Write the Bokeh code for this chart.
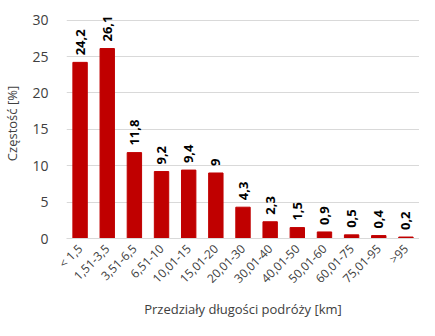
import math
from bokeh.plotting import figure
from bokeh.models import ColumnDataSource, FactorRange, FixedTicker
from bokeh.embed import file_html
from bokeh.resources import INLINE
from bokeh.core.properties import value

categories = ["< 1,5", "1,51-3,5", "3,51-6,5", "6,51-10", "10,01-15", "15,01-20",
              "20,01-30", "30,01-40", "40,01-50", "50,01-60", "60,01-75", "75,01-95", ">95"]
values = [24.2, 26.1, 11.8, 9.2, 9.4, 9.0, 4.3, 2.3, 1.5, 0.9, 0.5, 0.4, 0.2]
labels = ["24,2", "26,1", "11,8", "9,2", "9,4", "9", "4,3", "2,3", "1,5", "0,9", "0,5", "0,4", "0,2"]
y_ticks = [0, 5, 10, 15, 20, 25, 30]

FONT = "Open Sans"

src = ColumnDataSource(dict(x=categories, y=values, lab=labels))

p = figure(x_range=FactorRange(*categories, range_padding=0.0), y_range=(0, 31.6),
           width=419, height=320, output_backend="svg", toolbar_location=None,
           min_border_left=60, min_border_right=0, min_border_top=8, min_border_bottom=0)

p.vbar(x="x", top="y", width=0.53, source=src, color="#C00000")
p.text(x="x", y="y", text="lab", source=src, angle=math.pi / 2, y_offset=-7,
       text_align="left", text_baseline="middle", text_font=value(FONT),
       text_font_style="bold", text_font_size="13px", text_color="#000000")

p.outline_line_color = None
p.xgrid.grid_line_color = None
p.ygrid.grid_line_color = "#d9d9d9"
p.ygrid.grid_line_width = 1

p.yaxis.ticker = FixedTicker(ticks=y_ticks)
p.yaxis.axis_line_color = None
p.yaxis.major_tick_line_color = None
p.yaxis.minor_tick_line_color = None
p.yaxis.major_label_text_font = FONT
p.yaxis.major_label_text_font_size = "14px"
p.yaxis.major_label_text_color = "#404040"
p.yaxis.major_label_standoff = 12
p.yaxis.axis_label = "Częstość [%]"
p.yaxis.axis_label_text_font = FONT
p.yaxis.axis_label_text_font_style = "normal"
p.yaxis.axis_label_text_font_size = "13px"
p.yaxis.axis_label_text_color = "#404040"
p.yaxis.axis_label_standoff = 8

p.xaxis.axis_line_color = "#d9d9d9"
p.xaxis.major_tick_line_color = None
p.xaxis.minor_tick_line_color = None
p.xaxis.major_label_orientation = math.pi / 4
p.xaxis.major_label_text_font = FONT
p.xaxis.major_label_text_font_size = "12px"
p.xaxis.major_label_text_color = "#404040"
p.xaxis.major_label_standoff = 2
p.xaxis.axis_label = "Przedziały długości podróży [km]"
p.xaxis.axis_label_text_font = FONT
p.xaxis.axis_label_text_font_style = "normal"
p.xaxis.axis_label_text_font_size = "13px"
p.xaxis.axis_label_text_color = "#404040"
p.xaxis.axis_label_standoff = 4

open("out.html", "w").write(file_html(p, INLINE))
